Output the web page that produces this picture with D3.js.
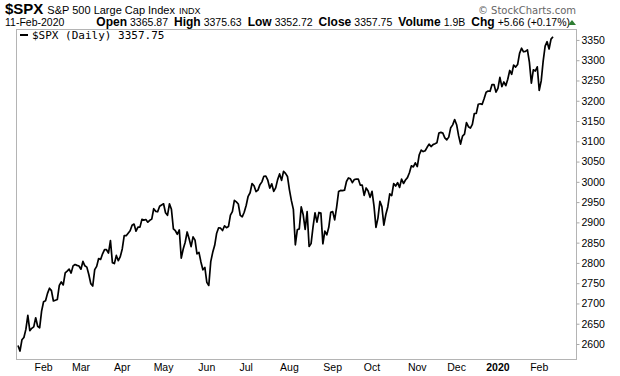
<!DOCTYPE html>
<html>
<head>
<meta charset="utf-8">
<script src="https://cdn.jsdelivr.net/npm/d3@7"></script>
<style>
  body { margin: 0; background: #fff; }
  text { font-family: "Liberation Sans", Arial, sans-serif; }
</style>
</head>
<body>
<div id="chart"></div>
<script>
// daily closes, 11-Jan-2019 .. 11-Feb-2020 (one value per trading day)
var closes = [
  2596.26, 2582.61, 2610.30, 2616.10, 2635.96, 2670.71, 2632.90, 2638.70, 2642.33, 2664.76, 2643.85, 2640.00, 2681.05, 2704.10,
  // Feb 2019
  2706.53, 2724.87, 2737.70, 2731.61, 2706.05, 2707.88, 2709.80, 2744.73, 2753.03, 2745.73, 2775.60, 2779.76, 2784.70, 2774.88,
  2792.67, 2796.11, 2793.90, 2792.38, 2784.49,
  // Mar
  2803.69, 2792.81, 2789.65, 2771.45, 2748.93, 2743.07, 2783.30, 2791.52, 2810.92, 2808.48, 2822.48, 2832.94, 2832.57, 2824.23,
  2854.88, 2800.71, 2798.36, 2818.46, 2805.37, 2815.44, 2834.40,
  // Apr
  2867.19, 2867.24, 2873.40, 2879.39, 2892.74, 2895.77, 2878.20, 2888.21, 2888.32, 2907.41, 2905.58, 2907.06, 2900.45, 2905.03,
  2907.97, 2933.68, 2927.25, 2926.17, 2939.88, 2943.03, 2945.83,
  // May
  2923.73, 2917.52, 2945.64, 2932.47, 2884.05, 2879.42, 2870.72, 2881.40, 2811.87, 2834.41, 2850.96, 2876.32, 2859.53, 2840.23,
  2864.36, 2856.27, 2822.24, 2826.06, 2802.39, 2783.02, 2788.86, 2752.06,
  // Jun
  2744.45, 2803.27, 2826.15, 2843.49, 2873.34, 2886.73, 2885.72, 2879.84, 2891.64, 2886.98, 2889.67, 2917.75, 2926.46, 2954.18,
  2950.46, 2945.35, 2917.38, 2913.78, 2924.92, 2941.76,
  // Jul
  2964.33, 2973.01, 2995.82, 2990.41, 2975.95, 2979.63, 2993.07, 2999.91, 3013.77, 3014.30, 3004.04, 2984.42, 2995.11, 2976.61,
  2985.03, 3005.47, 3019.56, 3003.67, 3025.86, 3020.97, 3013.18, 2980.38,
  // Aug
  2953.56, 2932.05, 2844.74, 2881.77, 2883.98, 2938.09, 2918.65, 2882.70, 2926.32, 2840.60, 2847.60, 2888.68, 2923.65, 2900.51,
  2924.43, 2922.95, 2847.11, 2878.38, 2869.16, 2887.94, 2924.58, 2926.46,
  // Sep
  2906.27, 2937.78, 2976.00, 2978.71, 2978.43, 2979.39, 3000.93, 3009.57, 3007.39, 2997.96, 3005.70, 3006.73, 3006.79, 2992.07,
  2991.78, 2966.60, 2984.87, 2977.62, 2961.79, 2976.74,
  // Oct
  2940.25, 2887.61, 2910.63, 2952.01, 2938.79, 2893.06, 2919.40, 2938.13, 2970.27, 2966.15, 2995.68, 2989.69, 2997.95, 2986.20,
  3006.72, 2995.99, 3004.52, 3010.29, 3022.55, 3039.42, 3036.89, 3046.77, 3037.56,
  // Nov
  3066.91, 3078.27, 3074.62, 3076.78, 3085.18, 3093.08, 3087.01, 3091.84, 3094.04, 3096.63, 3120.46, 3122.03, 3120.18, 3108.46,
  3103.54, 3110.29, 3133.64, 3140.52, 3153.63, 3140.98,
  // Dec
  3113.87, 3093.20, 3112.76, 3117.43, 3145.91, 3135.96, 3132.52, 3141.63, 3168.57, 3168.80, 3191.45, 3192.52, 3191.14, 3205.37,
  3221.22, 3224.01, 3223.38, 3239.91, 3240.02, 3221.29, 3230.78,
  // Jan 2020
  3257.85, 3234.85, 3246.28, 3237.18, 3253.05, 3274.70, 3265.35, 3288.13, 3283.15, 3289.29, 3316.81, 3329.62, 3320.79, 3321.75,
  3325.54, 3295.47, 3243.63, 3276.24, 3273.40, 3283.66, 3225.52,
  // Feb 2020
  3248.92, 3297.59, 3334.69, 3345.78, 3327.71, 3352.09, 3357.75
];

// month labels and the number of trading days before each one starts
var monthLabels = ["Feb", "Mar", "Apr", "May", "Jun", "Jul", "Aug", "Sep", "Oct", "Nov", "Dec", "2020", "Feb"];
var monthDays   = [14, 19, 21, 21, 22, 20, 22, 22, 20, 23, 20, 21, 21];
var yTicks = [2600, 2650, 2700, 2750, 2800, 2850, 2900, 2950, 3000, 3050, 3100, 3150, 3200, 3250, 3300, 3350];

var svgWidth = 620, svgHeight = 376;
var frame = { left: 16, right: 576, top: 29, bottom: 359 };

var svg = d3.select("#chart").append("svg").attr("width", svgWidth).attr("height", svgHeight);

var x = d3.scaleLinear().domain([0, closes.length - 1]).range([18, 553]);
var y = d3.scaleLinear().domain([2563, 3377]).range([frame.bottom, frame.top]);

// header
var head = svg.append("text").attr("x", 5).attr("y", 14).attr("fill", "#000");
head.append("tspan").attr("font-weight", "bold").attr("font-size", 15).text("$SPX");
head.append("tspan").attr("font-size", 11).attr("dx", 4).text("S&P 500 Large Cap Index");
head.append("tspan").attr("font-size", 9).attr("dx", 4).text("INDX");

var info = svg.append("text").attr("x", 5).attr("y", 26).attr("font-size", 10.5).attr("fill", "#000");
info.append("tspan").text("11-Feb-2020");
var parts = [["Open", "3365.87"], ["High", "3375.63"], ["Low", "3352.72"], ["Close", "3357.75"], ["Volume", "1.9B"], ["Chg", "+5.66 (+0.17%)"]];
parts.forEach(function(p, i) {
  info.append("tspan").attr("dx", i == 0 ? 32 : 6).attr("font-weight", "bold").attr("font-size", 12).text(p[0]);
  info.append("tspan").attr("dx", 3).text(p[1]);
});
// green up arrow
svg.append("path").attr("d", "M568,25 L572,20 L576,25 Z").attr("fill", "#2e7d32");

svg.append("text").attr("x", 576).attr("y", 14).attr("text-anchor", "end")
  .attr("font-size", 10).attr("fill", "#666").style("font-family", "'DejaVu Sans', sans-serif")
  .text("\u00A9 StockCharts.com");

// frame
svg.append("rect").attr("x", frame.left + 0.5).attr("y", frame.top + 0.5)
  .attr("width", frame.right - frame.left).attr("height", frame.bottom - frame.top)
  .attr("fill", "none").attr("stroke", "#b4b4b4");

// right axis
var rightAxis = d3.axisRight(y).tickValues(yTicks).tickFormat(d3.format("d")).tickSize(3).tickPadding(2);
var ax = svg.append("g").attr("transform", `translate(${frame.right + 0.5},0)`).call(rightAxis);
ax.select(".domain").remove();
ax.selectAll(".tick line").attr("stroke", "#aaa");
ax.selectAll("text").attr("font-size", 10.5).attr("fill", "#000").style("font-family", "'Liberation Sans', Arial, sans-serif");

// bottom month labels
var cum = 0;
var monthIdx = monthDays.map(function(d) { cum += d; return cum; });
svg.selectAll(".month").data(monthLabels).enter().append("text")
  .attr("x", (d, i) => x(monthIdx[i] - 1))
  .attr("y", 371).attr("text-anchor", "middle").attr("font-size", 10.5)
  .attr("font-weight", d => d == "2020" ? "bold" : "normal")
  .text(d => d);

// price line
var line = d3.line().x((d, i) => x(i)).y(d => y(d));
svg.append("path").datum(closes).attr("d", line)
  .attr("fill", "none").attr("stroke", "#000").attr("stroke-width", 1.7).attr("stroke-linejoin", "round");

// legend
svg.append("line").attr("x1", 20).attr("x2", 28).attr("y1", 35).attr("y2", 35).attr("stroke", "#000").attr("stroke-width", 2);
svg.append("text").attr("x", 32).attr("y", 39).attr("font-size", 11)
  .style("font-family", "'DejaVu Sans Mono', monospace").text("$SPX (Daily) 3357.75");
</script>
</body>
</html>
